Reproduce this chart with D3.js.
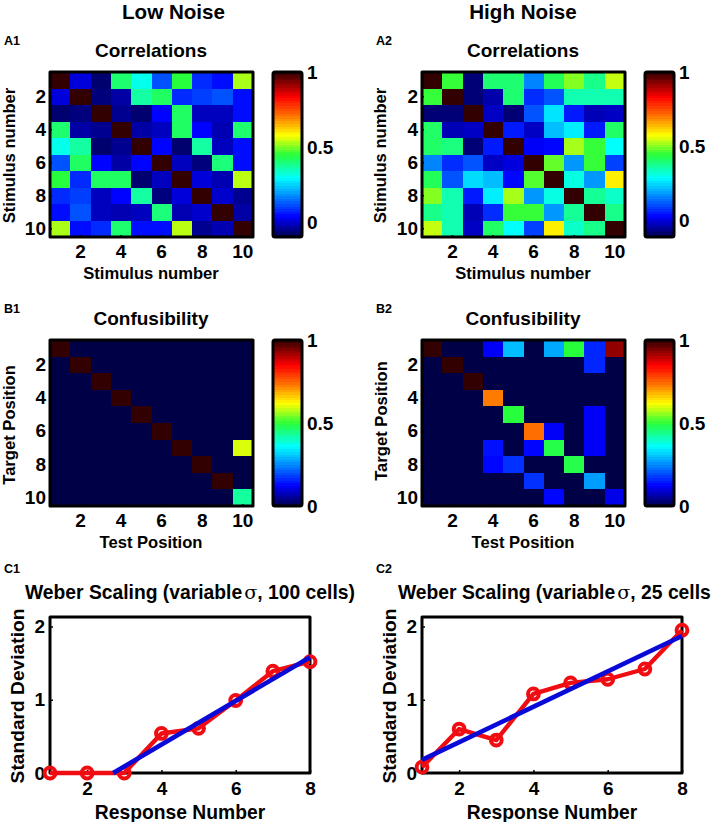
<!DOCTYPE html>
<html><head><meta charset="utf-8">
<script src="https://cdn.jsdelivr.net/npm/d3@7"></script>
<style>
html,body{margin:0;padding:0;background:#fff}
svg{display:block}
text{font-family:"Liberation Sans",Arial,sans-serif;font-weight:700;fill:#000}
.frame{fill:none;stroke:#000;stroke-width:3;stroke-linejoin:round}
.domain{display:none}
</style></head><body>
<svg id="c" width="719" height="822"></svg>
<script>
const stimulusTicks=[2,4,6,8,10];
const responseNumbers=[1,2,3,4,5,6,7,8];
const responseTicks=[2,4,6,8];
const sdTicks=[0,1,2];

const corrLow=[
[1,.01,-.07,.41,.31,.12,.45,.08,.05,.53],
[.01,1,-.06,-.03,.37,.42,.08,.1,.12,.05],
[-.07,-.06,1,-.045,-.07,.04,.42,-.01,-.01,.05],
[.41,-.03,-.045,1,-.03,-.01,.42,.04,-.02,.41],
[.31,.37,-.07,-.045,1,.04,-.07,.37,-.01,.05],
[.12,.42,.04,-.03,.04,1,-.01,-.06,.4,.05],
[.45,.08,.42,.42,-.07,-.01,1,.01,-.02,.54],
[.08,.1,-.01,.04,.37,-.06,.01,1,0,-.045],
[.05,.12,-.01,-.02,-.01,.4,-.02,0,1,-.03],
[.53,.05,.08,.41,.05,.05,.54,-.045,-.02,1]];

const corrHigh=[
[1,.45,-.08,.4,.4,.16,.42,.5,.38,.54],
[.45,1,-.08,-.04,.4,.07,.11,.35,.35,.35],
[-.08,-.08,1,-.02,-.08,.11,.26,.05,-.03,-.02],
[.41,-.03,-.02,1,.05,-.02,.22,.27,.05,.41],
[.41,.39,-.08,.05,1,.02,.03,.52,.45,.29],
[.16,.07,.11,-.02,0,1,.48,.18,.45,.09],
[.42,.11,.25,.22,.03,.47,1,.31,.18,.59],
[.5,.35,.05,.27,.52,.18,.31,1,.37,.33],
[.38,.35,-.03,.07,.45,.45,.18,.37,1,.38],
[.54,.35,-.02,.41,.29,.09,.59,.33,.38,1]];

const confLow=[
[1,0,0,0,0,0,0,0,0,0],
[0,1,0,0,0,0,0,0,0,0],
[0,0,1,0,0,0,0,0,0,0],
[0,0,0,1,0,0,0,0,0,0],
[0,0,0,0,1,0,0,0,0,0],
[0,0,0,0,0,1,0,0,0,0],
[0,0,0,0,0,0,1,0,0,.6],
[0,0,0,0,0,0,0,1,0,0],
[0,0,0,0,0,0,0,0,1,0],
[0,0,0,0,0,0,0,0,0,.43]];

const confHigh=[
[1,0,0,.12,.3,0,.28,.5,.16,.93],
[0,1,0,0,0,0,0,0,.16,0],
[0,0,1,0,0,0,0,0,0,0],
[0,0,0,.73,0,0,0,0,0,0],
[0,0,0,0,.5,0,0,0,.12,0],
[0,0,0,0,0,.74,.12,0,.12,0],
[0,0,0,.14,0,.13,.49,0,.12,0],
[0,0,0,.13,.17,0,0,.49,0,0],
[0,0,0,0,0,.17,0,0,.27,0],
[0,0,0,0,0,0,.13,0,0,.11]];

const sdLow=[0,0,0,.54,.61,.99,1.39,1.52];
const sdHigh=[.08,.6,.45,1.08,1.23,1.28,1.42,1.95];
const fitLowX=[2.7,8], fitLowY=[0,1.58];
const fitHighX=[1,8], fitHighY=[.18,1.87];

const cmap=d3.scaleLinear()
  .domain([0,.125,.36,.5,.62,.74,.85,1])
  .range(["rgb(0,0,70)","rgb(0,0,255)","rgb(0,255,255)","rgb(40,255,60)","rgb(255,255,0)","rgb(255,110,0)","rgb(255,0,0)","rgb(50,0,0)"])
  .clamp(true);

const svg=d3.select("#c");
const txt=(x,y,s,size,o={})=>{
  const t=svg.append("text").attr("x",x).attr("y",y).attr("font-size",size)
    .attr("text-anchor",o.anchor||"middle").attr("dominant-baseline","central").text(s);
  if(o.rot) t.attr("transform",`rotate(-90 ${x} ${y})`);
  return t;
};
const styleAxis=(g,size)=>{
  g.selectAll("text").attr("font-size",size).style("fill","#000");
  g.selectAll("line").attr("stroke","#000").attr("stroke-width",1.5);
};

function heat(o){
  const W=203,H=o.h;
  const idx=d3.range(1,11);
  const x=d3.scaleBand().domain(idx).range([o.x,o.x+W]);
  const y=d3.scaleBand().domain(idx).range([o.y,o.y+H]);
  const col=v=>cmap((v-o.cmin)/(1-o.cmin));
  const g=svg.append("g").attr("shape-rendering","crispEdges");
  o.data.forEach((row,i)=>row.forEach((v,j)=>{
    g.append("rect").attr("x",x(j+1)).attr("y",y(i+1))
      .attr("width",x.bandwidth()+.5).attr("height",y.bandwidth()+.5).attr("fill",col(v));
  }));
  const ax=svg.append("g").attr("transform",`translate(0,${o.y+H})`)
    .call(d3.axisBottom(x).tickValues(stimulusTicks).tickSize(-2).tickPadding(8));
  styleAxis(ax,19);
  const ay=svg.append("g").attr("transform",`translate(${o.x},0)`)
    .call(d3.axisLeft(y).tickValues(stimulusTicks).tickSize(-2).tickPadding(4));
  styleAxis(ay,19);
  svg.append("rect").attr("class","frame").attr("x",o.x).attr("y",o.y).attr("width",W).attr("height",H);
  // colour bar
  const cx=o.x+o.barDx, cw=29;
  const cy=d3.scaleLinear().domain([o.cmin,1]).range([o.y+H,o.y]);
  const steps=d3.range(64).map(i=>o.cmin+(i+.5)/64*(1-o.cmin));
  const bh=H/64;
  svg.append("g").attr("shape-rendering","crispEdges").selectAll("rect").data(steps).join("rect")
    .attr("x",cx).attr("width",cw).attr("y",d=>cy(d)-bh/2).attr("height",bh+.5).attr("fill",col);
  const cax=svg.append("g").attr("transform",`translate(${cx+cw},0)`)
    .call(d3.axisRight(cy).tickValues([0,.5,1]).tickFormat(d3.format("~g")).tickSize(0).tickPadding(5));
  styleAxis(cax,19);
  svg.append("rect").attr("class","frame").attr("x",cx).attr("y",o.y).attr("width",cw).attr("height",H).attr("rx",2);
  txt(o.x+101,o.y-22,o.title,19);
  txt(o.x+101,o.y+H+36,o.xl,16.6);
  txt(o.ylx,o.y+H/2+o.yld,o.yl,16.6,{rot:1});
  txt(o.x-46,o.y-31,o.tag,12.5,{anchor:"start"});
}

function weber(o){
  const x=d3.scaleLinear().domain([1,8]).range([o.x,o.x+260]);
  const y=d3.scaleLinear().domain([0,2.13]).range([773,617]);
  const ax=svg.append("g").attr("transform","translate(0,773)")
    .call(d3.axisBottom(x).tickValues(responseTicks).tickFormat(d3.format("d")).tickSize(-3).tickPadding(9));
  styleAxis(ax,19);
  const ay=svg.append("g").attr("transform",`translate(${o.x},0)`)
    .call(d3.axisLeft(y).tickValues(sdTicks).tickFormat(d3.format("d")).tickSize(-3).tickPadding(5));
  styleAxis(ay,19);
  svg.append("rect").attr("class","frame").attr("x",o.x).attr("y",617).attr("width",260).attr("height",156);
  const line=d3.line().x(d=>x(d[0])).y(d=>y(d[1]));
  const pts=d3.zip(responseNumbers,o.sd);
  svg.append("path").attr("d",line(pts)).attr("fill","none").attr("stroke","#f00d12").attr("stroke-width",4.4).attr("stroke-linejoin","round");
  svg.append("g").selectAll("circle").data(pts).join("circle")
    .attr("cx",d=>x(d[0])).attr("cy",d=>y(d[1])).attr("r",5.4)
    .attr("fill","none").attr("stroke","#f00d12").attr("stroke-width",4);
  svg.append("path").attr("d",line(d3.zip(o.fx,o.fy))).attr("fill","none").attr("stroke","#0a0ad8").attr("stroke-width",4.6);
  const t=txt(o.tx,592,"",o.ts,{anchor:"start"});
  t.append("tspan").text(o.t1);
  t.append("tspan").attr("dx",2).style("font-family","'DejaVu Serif','Liberation Serif',serif").style("font-weight",400).text("σ");
  t.append("tspan").text(o.t2);
  txt(o.x+130,812,"Response Number",19.3);
  txt(o.ylx,696,"Standard Deviation",19.2,{rot:1});
  txt(o.x-46,569,o.tag,12.5,{anchor:"start"});
}

txt(173.5,11,"Low Noise",20.6);
txt(523,11,"High Noise",20.6);

heat({x:50,y:72,h:165,data:corrLow,cmin:-.1,barDx:223,title:"Correlations",xl:"Stimulus number",yl:"Stimulus number",ylx:9,yld:1,tag:"A1"});
heat({x:422,y:72,h:165,data:corrHigh,cmin:-.115,barDx:223,title:"Correlations",xl:"Stimulus number",yl:"Stimulus number",ylx:380,yld:1,tag:"A2"});
heat({x:50,y:340,h:166,data:confLow,cmin:0,barDx:223,title:"Confusibility",xl:"Test Position",yl:"Target Position",ylx:9,yld:2,tag:"B1"});
heat({x:422,y:340,h:166,data:confHigh,cmin:0,barDx:223,title:"Confusibility",xl:"Test Position",yl:"Target Position",ylx:381,yld:-2,tag:"B2"});

weber({x:50,sd:sdLow,fx:fitLowX,fy:fitLowY,t1:"Weber Scaling (variable",t2:", 100 cells)",tx:25,ts:19.3,ylx:17,tag:"C1"});
weber({x:422,sd:sdHigh,fx:fitHighX,fy:fitHighY,t1:"Weber Scaling (variable",t2:", 25 cells",tx:398,ts:19.3,ylx:389,tag:"C2"});
</script></body></html>
